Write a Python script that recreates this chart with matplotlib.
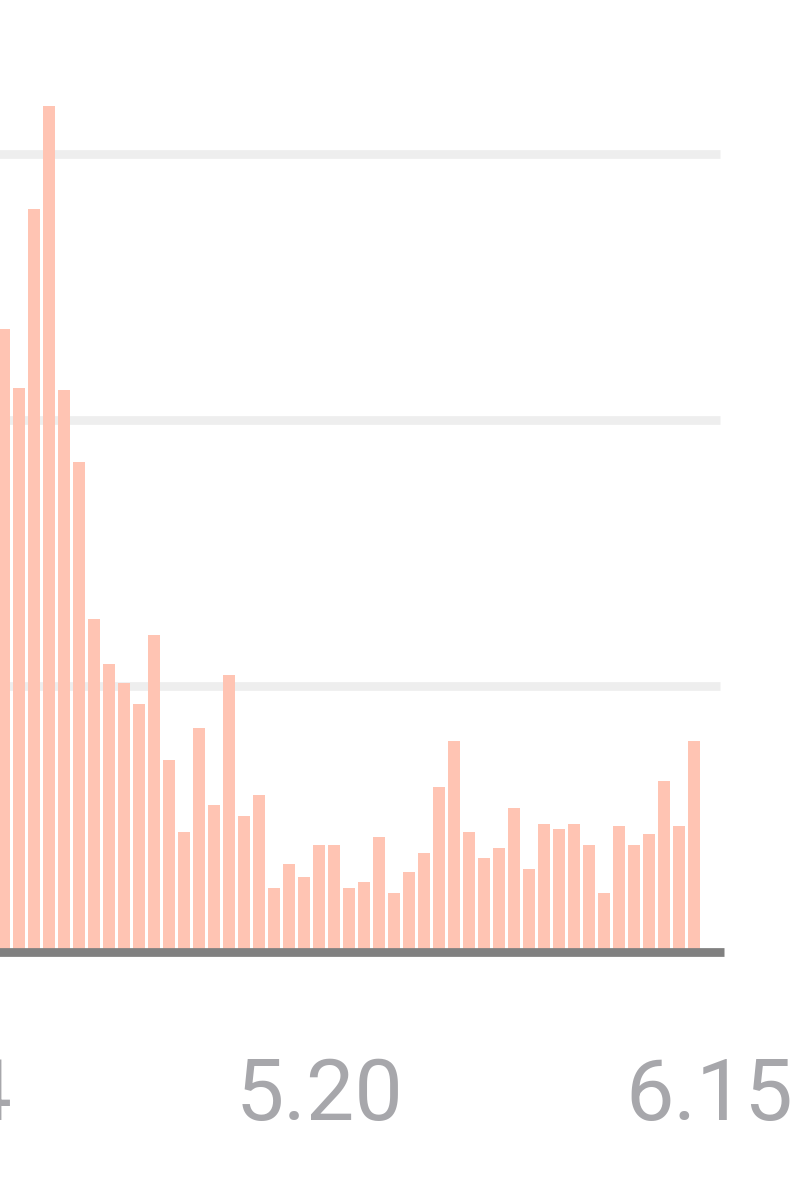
import matplotlib.pyplot as plt
import matplotlib.transforms as mtransforms

# daily counts, first visible bar is 4.29, last is 6.14
values = [234, 212, 279, 318, 211, 184, 125, 108, 101, 93,
          119, 72, 45, 84, 55, 104, 51, 59, 24, 33,
          28, 40, 40, 24, 26, 43, 22, 30, 37, 62,
          79, 45, 35, 39, 54, 31, 48, 46, 48, 40,
          22, 47, 40, 44, 64, 47, 79]
days = list(range(len(values)))

tick_pos = [-5, 21, 47]
tick_labels = ['4.24', '5.20', '6.15']
grid_vals = [100, 200, 300]

bar_color = '#FFC4B3'
grid_color = '#EEEEEE'
axis_color = '#808080'
label_color = '#A7A7AB'

fig = plt.figure(figsize=(7.95, 12), dpi=100)
ax = fig.add_axes([0, 0, 1, 1])

# pixel mapping: bar k centre at 4 + 15k px, value 0 at 951.5 px, 100 per 266 px
ax.set_xlim(-4 / 15, 791 / 15)
ax.set_ylim(-(1200 - 951.5) / 2.66, 951.5 / 2.66)
ax.axis('off')

ax.hlines(grid_vals, -10, (720 - 4) / 15, colors=grid_color, linewidth=6.3, zorder=1)
ax.bar(days, values, width=0.8, color=bar_color, zorder=2)
ax.hlines(0, -10, (724 - 4) / 15, colors=axis_color, linewidth=6.3, zorder=3)

trans = mtransforms.blended_transform_factory(ax.transData, ax.transAxes)
for pos, lab in zip(tick_pos, tick_labels):
    ax.text(pos, 1 - 1120 / 1200, lab, transform=trans, ha='center', va='baseline',
            fontsize=62, color=label_color, family='Roboto')

fig.savefig('out.png', dpi=100)
